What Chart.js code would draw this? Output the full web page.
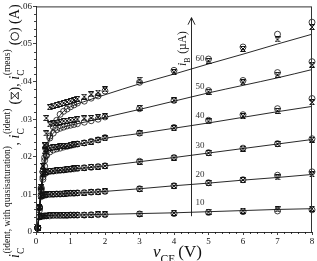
<!DOCTYPE html>
<html><head><meta charset="utf-8">
<script src="https://cdn.jsdelivr.net/npm/chart.js@4/dist/chart.umd.min.js"></script>
<style>html,body{margin:0;padding:0;background:#fff;}#wrap{width:317px;height:261px;position:relative}</style>
</head><body><div id="wrap"><canvas id="c" width="317" height="261"></canvas></div>
<script>
// ---- data ----
const iBValues = [10, 20, 30, 40, 50, 60];
const iBLabels = ['10', '20', '30', '40', '50', '60'];
const xTickLabels = ['0','1','2','3','4','5','6','7','8'];
const yTickLabels = ['0','.01','.02','.03','.04','.05','.06'];

// model with quasisaturation (solid lines)
const xLine = [0.04, 0.06, 0.08, 0.1, 0.12, 0.15, 0.2, 0.25, 0.3, 0.4, 0.5, 0.6, 0.8, 1, 1.5, 2, 3, 4, 5, 6, 7, 8];
const line10 = [0, 0.0022, 0.0038, 0.0042, 0.0043, 0.0043, 0.0043, 0.0044, 0.0044, 0.0044, 0.0044, 0.0045, 0.0045, 0.0045, 0.0046, 0.0047, 0.0049, 0.0051, 0.0054, 0.0057, 0.0060, 0.0062];
const line20 = [0, 0.0022, 0.0044, 0.0065, 0.0084, 0.0094, 0.0097, 0.0098, 0.0099, 0.0100, 0.0101, 0.0101, 0.0102, 0.0103, 0.0105, 0.0108, 0.0115, 0.0123, 0.0130, 0.0138, 0.0145, 0.0153];
const line30 = [0, 0.0022, 0.0044, 0.0066, 0.0088, 0.0118, 0.0146, 0.0155, 0.0158, 0.0161, 0.0162, 0.0163, 0.0165, 0.0167, 0.0171, 0.0176, 0.0187, 0.0198, 0.0210, 0.0222, 0.0234, 0.0246];
const line40 = [0, 0.0021, 0.0042, 0.0063, 0.0084, 0.0115, 0.0160, 0.0190, 0.0203, 0.0213, 0.0218, 0.0221, 0.0226, 0.0230, 0.0238, 0.0249, 0.0262, 0.0276, 0.0290, 0.0305, 0.0320, 0.0334];
const line50 = [0, 0.0020, 0.0040, 0.0060, 0.0080, 0.0110, 0.0160, 0.0198, 0.0226, 0.0250, 0.0263, 0.0271, 0.0279, 0.0284, 0.0294, 0.0305, 0.0326, 0.0348, 0.0370, 0.0390, 0.0410, 0.0432];
const line60 = [0, 0.0018, 0.0036, 0.0055, 0.0073, 0.0098, 0.0140, 0.0175, 0.0205, 0.0250, 0.0278, 0.0297, 0.0321, 0.0333, 0.0350, 0.0365, 0.0394, 0.0420, 0.0447, 0.0473, 0.0500, 0.0526];

// measured (circles) and identified model (hourglass marks)
const xMeas = [0.05, 0.1, 0.15, 0.2, 0.25, 0.3, 0.4, 0.5, 0.6, 0.7, 0.8, 0.9, 1, 1.1, 1.2, 1.4, 1.6, 1.8, 2, 3, 4, 5, 6, 7, 8];
const meas10 = [0.0011, 0.0040, 0.0042, 0.0042, 0.0043, 0.0043, 0.0043, 0.0044, 0.0044, 0.0044, 0.0044, 0.0044, 0.0045, 0.0045, 0.0045, 0.0045, 0.0046, 0.0046, 0.0046, 0.0048, 0.0049, 0.0052, 0.0054, 0.0056, 0.0059];
const ident10 = [0.0011, 0.0041, 0.0043, 0.0043, 0.0043, 0.0043, 0.0044, 0.0044, 0.0044, 0.0044, 0.0045, 0.0045, 0.0045, 0.0045, 0.0045, 0.0046, 0.0046, 0.0047, 0.0047, 0.0049, 0.0051, 0.0054, 0.0057, 0.0060, 0.0062];
const meas20 = [0.0011, 0.0065, 0.0094, 0.0097, 0.0098, 0.0099, 0.0100, 0.0100, 0.0101, 0.0101, 0.0102, 0.0102, 0.0103, 0.0103, 0.0104, 0.0105, 0.0106, 0.0107, 0.0108, 0.0115, 0.0123, 0.0131, 0.0139, 0.0151, 0.0160];
const ident20 = [0.0011, 0.0066, 0.0096, 0.0098, 0.0099, 0.0100, 0.0100, 0.0101, 0.0101, 0.0102, 0.0102, 0.0103, 0.0103, 0.0104, 0.0104, 0.0105, 0.0106, 0.0107, 0.0108, 0.0115, 0.0123, 0.0130, 0.0138, 0.0145, 0.0153];
const meas30 = [0.0011, 0.0066, 0.0118, 0.0146, 0.0155, 0.0158, 0.0161, 0.0162, 0.0163, 0.0164, 0.0165, 0.0166, 0.0167, 0.0168, 0.0169, 0.0171, 0.0172, 0.0174, 0.0176, 0.0188, 0.0198, 0.0211, 0.0223, 0.0235, 0.0248];
const ident30 = [0.0011, 0.0066, 0.0121, 0.0155, 0.0159, 0.0160, 0.0162, 0.0163, 0.0164, 0.0165, 0.0166, 0.0167, 0.0168, 0.0169, 0.0170, 0.0171, 0.0173, 0.0174, 0.0176, 0.0187, 0.0198, 0.0210, 0.0222, 0.0234, 0.0246];
const meas40 = [0.0011, 0.0065, 0.0115, 0.0160, 0.0190, 0.0203, 0.0213, 0.0218, 0.0221, 0.0223, 0.0226, 0.0228, 0.0230, 0.0232, 0.0234, 0.0237, 0.0241, 0.0245, 0.0251, 0.0263, 0.0278, 0.0297, 0.0312, 0.0328, 0.0355];
const ident40 = [0.0011, 0.0066, 0.0121, 0.0176, 0.0215, 0.0222, 0.0224, 0.0225, 0.0226, 0.0228, 0.0229, 0.0230, 0.0232, 0.0233, 0.0234, 0.0237, 0.0240, 0.0244, 0.0249, 0.0262, 0.0276, 0.0294, 0.0308, 0.0322, 0.0345];
const meas50 = [0.0011, 0.0064, 0.0112, 0.0160, 0.0198, 0.0226, 0.0250, 0.0263, 0.0272, 0.0276, 0.0279, 0.0282, 0.0284, 0.0286, 0.0288, 0.0292, 0.0296, 0.0300, 0.0306, 0.0328, 0.0350, 0.0376, 0.0403, 0.0424, 0.0453];
const ident50 = [0.0011, 0.0066, 0.0121, 0.0176, 0.0231, 0.0262, 0.0286, 0.0289, 0.0291, 0.0293, 0.0295, 0.0296, 0.0298, 0.0299, 0.0300, 0.0302, 0.0303, 0.0305, 0.0308, 0.0330, 0.0350, 0.0373, 0.0398, 0.0418, 0.0445];
const meas60 = [0.0010, 0.0058, 0.0100, 0.0140, 0.0175, 0.0205, 0.0255, 0.0280, 0.0297, 0.0313, 0.0321, 0.0327, 0.0333, 0.0338, 0.0343, 0.0348, 0.0356, 0.0362, 0.0375, 0.0398, 0.0430, 0.0460, 0.0492, 0.0526, 0.0558];
const ident60 = [0.0011, 0.0066, 0.0121, 0.0176, 0.0231, 0.0303, 0.0332, 0.0336, 0.0338, 0.0341, 0.0343, 0.0346, 0.0348, 0.0351, 0.0354, 0.0360, 0.0366, 0.0371, 0.0379, 0.0405, 0.0425, 0.0455, 0.0487, 0.0512, 0.0545];

const lines = [line10, line20, line30, line40, line50, line60];
const meas = [meas10, meas20, meas30, meas40, meas50, meas60];
const ident = [ident10, ident20, ident30, ident40, ident50, ident60];

// ---- rendering ----
const SERIF = '"Liberation Serif", "DejaVu Serif", serif';
const INK = '#111';

function hourglassCanvas() {
  const c = document.createElement('canvas');
  c.width = 6; c.height = 6;
  const g = c.getContext('2d');
  g.strokeStyle = INK; g.lineWidth = 1;
  g.beginPath();
  g.moveTo(0.5, 0.5); g.lineTo(5.5, 0.5); g.lineTo(0.5, 5.5); g.lineTo(5.5, 5.5); g.lineTo(0.5, 0.5);
  g.stroke();
  return c;
}
const hgImg = hourglassCanvas();

const pts = (xs, ys) => xs.map((x, i) => ({ x: x, y: ys[i] }));
const datasets = [];
iBValues.forEach((ib, k) => {
  datasets.push({ label: 'model ' + ib, data: pts(xLine, lines[k]), showLine: true, borderColor: INK, borderWidth: 0.9,
    pointRadius: 0, cubicInterpolationMode: 'monotone', fill: false, order: 3 });
  datasets.push({ label: 'ident ' + ib, data: pts(xMeas, ident[k]), showLine: false, pointStyle: hgImg,
    pointRadius: 3, clip: false, order: 2 });
  datasets.push({ label: 'meas ' + ib, data: pts(xMeas, meas[k]), showLine: false, pointStyle: 'circle',
    pointRadius: 3, borderWidth: 0.8, borderColor: INK, backgroundColor: 'rgba(0,0,0,0)', clip: false, order: 1 });
});

function richText(ctx, items, M, draw) {
  const S = M * 0.68;
  let w = 0;
  for (const it of items) {
    if (it.k === 't') {
      ctx.font = (it.it ? 'italic ' : '') + M + 'px ' + SERIF;
      if (draw) ctx.fillText(it.t, w, 0);
      w += ctx.measureText(it.t).width;
    } else if (it.k === 'ss') {
      ctx.font = S + 'px ' + SERIF;
      let ww = 0;
      if (it.sub) { if (draw) ctx.fillText(it.sub, w, M * 0.38); ww = Math.max(ww, ctx.measureText(it.sub).width); }
      if (it.sup) { if (draw) ctx.fillText(it.sup, w + 0.5, -M * 0.62); ww = Math.max(ww, ctx.measureText(it.sup).width); }
      w += ww + 1 + (it.gap || 0);
    } else if (it.k === 'sym') {
      const sz = M * 0.5;
      if (draw) {
        ctx.save();
        ctx.lineWidth = 0.9; ctx.strokeStyle = INK;
        const cx = w + sz * 0.6, cy = -M * 0.3;
        ctx.beginPath();
        if (it.s === 'hg') {
          const h = sz * 0.5;
          ctx.moveTo(cx - h, cy - h); ctx.lineTo(cx + h, cy - h); ctx.lineTo(cx - h, cy + h); ctx.lineTo(cx + h, cy + h); ctx.closePath();
        } else {
          ctx.arc(cx, cy, sz * 0.55, 0, Math.PI * 2);
        }
        ctx.stroke();
        ctx.restore();
      }
      w += sz * 1.2;
    }
  }
  return w;
}

const yTitle = [
  { k: 't', t: 'i', it: true }, { k: 'ss', sub: 'C', sup: '(ident, with quasisaturation)' },
  { k: 't', t: ', ' }, { k: 't', t: 'i', it: true }, { k: 'ss', sub: 'C', sup: '(ident)' },
  { k: 't', t: ' (' }, { k: 'sym', s: 'hg' }, { k: 't', t: '), ' },
  { k: 't', t: 'i', it: true }, { k: 'ss', sub: 'C', sup: '(meas)' },
  { k: 't', t: ' (' }, { k: 'sym', s: 'circ' }, { k: 't', t: ') (A)' }
];
const xTitle = [{ k: 't', t: 'v', it: true }, { k: 'ss', sub: 'CE', gap: 2 }, { k: 't', t: '(V)' }];
const ibTitle = [{ k: 't', t: 'i', it: true }, { k: 'ss', sub: 'B' }, { k: 't', t: ' (µA)' }];

const decor = {
  id: 'decor',
  afterDatasetsDraw(chart) {
    const { ctx, chartArea: a, scales: { x, y } } = chart;
    ctx.save();
    ctx.strokeStyle = '#333'; ctx.lineWidth = 1;
    ctx.strokeRect(a.left + 0.5, a.top + 0.5, a.right - a.left - 1, a.bottom - a.top);
    // minor ticks
    ctx.strokeStyle = INK; ctx.lineWidth = 0.8;
    ctx.beginPath();
    for (let i = 0; i <= 40; i++) {
      if (i % 5 === 0) continue;
      const px = Math.round(x.getPixelForValue(i * 0.2)) + 0.5;
      ctx.moveTo(px, a.bottom); ctx.lineTo(px, a.bottom + 2);
    }
    for (let i = 0; i <= 30; i++) {
      if (i % 5 === 0) continue;
      const py = Math.round(y.getPixelForValue(i * 0.002)) + 0.5;
      ctx.moveTo(a.left - 2, py); ctx.lineTo(a.left, py);
    }
    ctx.stroke();
    // arrow for increasing iB
    const arrowX = 4.5, arrowFrom = 0.0042, arrowTo = 0.057;
    const ax = Math.round(x.getPixelForValue(arrowX)) + 0.5;
    const y0 = y.getPixelForValue(arrowFrom), y1 = y.getPixelForValue(arrowTo);
    ctx.lineWidth = 0.9;
    ctx.beginPath();
    ctx.moveTo(ax, y0); ctx.lineTo(ax, y1);
    ctx.moveTo(ax - 3.5, y1 + 7); ctx.lineTo(ax, y1); ctx.lineTo(ax + 3.5, y1 + 7);
    ctx.stroke();
    // iB labels placed just above each model line where it crosses the arrow
    ctx.fillStyle = '#333';
    ctx.font = '9px ' + SERIF;
    ctx.textBaseline = 'middle';
    ctx.textAlign = 'left';
    iBLabels.forEach((lab, k) => {
      const i4 = xLine.indexOf(4), i5 = xLine.indexOf(5);
      const v = (lines[k][i4] + lines[k][i5]) / 2;
      ctx.fillText(lab, ax + 4, y.getPixelForValue(v) - 10);
    });
    ctx.restore();
  },
  afterDraw(chart) {
    const { ctx } = chart;
    ctx.save();
    ctx.fillStyle = INK;
    ctx.textBaseline = 'alphabetic';
    ctx.textAlign = 'left';
    // y title, rotated, fitted to the left edge
    let M = 13;
    const w = richText(ctx, yTitle, M, false);
    M = M * 254 / w;
    ctx.save();
    ctx.translate(19, 258);
    ctx.rotate(-Math.PI / 2);
    richText(ctx, yTitle, M, true);
    ctx.restore();
    // x title
    ctx.save();
    ctx.translate(153, 257);
    richText(ctx, xTitle, 17, true);
    ctx.restore();
    // iB title beside the arrow
    ctx.save();
    ctx.translate(186, 66);
    ctx.rotate(-Math.PI / 2);
    richText(ctx, ibTitle, 11.5, true);
    ctx.restore();
    ctx.restore();
  }
};

new Chart(document.getElementById('c'), {
  type: 'line',
  data: { datasets },
  options: {
    responsive: false, animation: false, devicePixelRatio: 1, events: [],
    layout: { padding: { top: 4, right: 4, left: 0, bottom: 0 } },
    plugins: { legend: { display: false }, tooltip: { enabled: false } },
    scales: {
      x: {
        type: 'linear', min: 0, max: 8,
        afterFit(s) { s.height = 29; },
        ticks: { stepSize: 1, autoSkip: false, maxRotation: 0, padding: 1, color: INK,
          font: { family: SERIF, size: 9 }, callback: (v) => xTickLabels[Math.round(v)] ?? '' },
        grid: { drawOnChartArea: false, drawTicks: true, tickLength: 3, color: INK, lineWidth: 0.8 },
        border: { display: true, color: INK, width: 1 }
      },
      y: {
        type: 'linear', min: 0, max: 0.06,
        afterFit(s) { s.width = 36; },
        ticks: { stepSize: 0.01, autoSkip: false, padding: 1, color: INK,
          font: { family: SERIF, size: 9 }, callback: (v) => yTickLabels[Math.round(v * 100)] ?? '' },
        grid: { drawOnChartArea: false, drawTicks: true, tickLength: 3, color: INK, lineWidth: 0.8 },
        border: { display: true, color: INK, width: 1 }
      }
    }
  },
  plugins: [decor]
});
</script>
</body></html>
